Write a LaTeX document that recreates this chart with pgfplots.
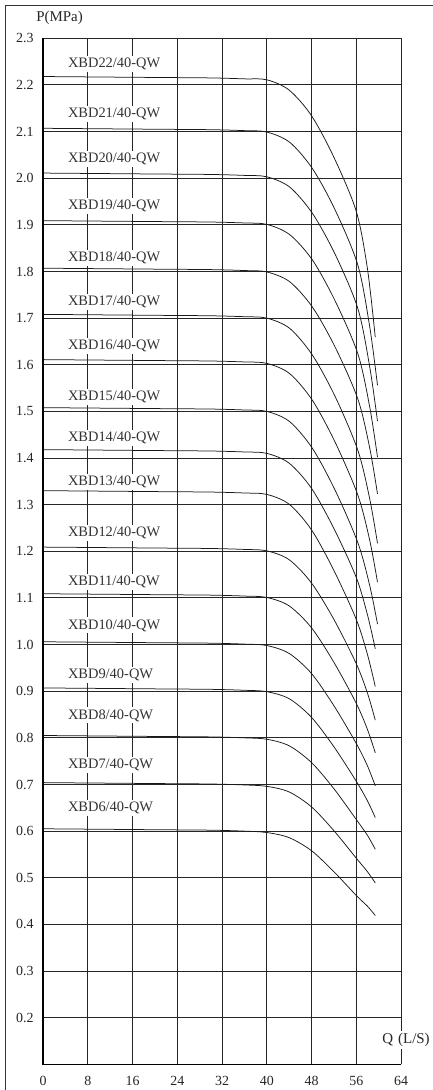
\documentclass[border=0pt]{standalone}
\usepackage{fontspec}
\setmainfont{Liberation Serif}
\usepackage{pgfplots}
\pgfplotsset{compat=1.18}
\usetikzlibrary{calc}

\tikzset{lab/.style={anchor=west, fill=white, inner xsep=3bp, inner ysep=2bp,
        text=black!80, font=\fontsize{14.5}{16}\selectfont}}

\begin{document}
\begin{tikzpicture}
\begin{axis}[
    width=358bp, height=1026bp, scale only axis,
    xmin=0, xmax=64, ymin=0.1, ymax=2.3,
    xtick={0,8,16,24,32,40,48,56,64},
    ytick={0.2,0.3,0.4,0.5,0.6,0.7,0.8,0.9,1.0,1.1,1.2,1.3,1.4,1.5,1.6,1.7,1.8,1.9,2.0,2.1,2.2,2.3},
    grid=major,
    major grid style={black!85, line width=0.9bp},
    axis line style={draw=none},
    tick style={draw=none},
    clip=false,
    /pgf/number format/assume math mode=true,
    ticklabel style={font=\fontsize{14}{16}\selectfont, black!85},
    yticklabel style={xshift=-6bp,
        /pgf/number format/fixed, /pgf/number format/fixed zerofill,
        /pgf/number format/precision=1},
    xticklabel style={yshift=-8bp},
    every axis plot post/.append style={black!90, line width=0.75bp, smooth, mark=none, solid},
]
% frame corners for the bounding box
\coordinate (A) at (rel axis cs:0,0);
\coordinate (B) at (rel axis cs:1,1);

% curve labels
\node[lab] at (axis cs:3.9,2.245) {XBD22/40-QW};
\node[lab] at (axis cs:3.9,2.138) {XBD21/40-QW};
\node[lab] at (axis cs:3.9,2.042) {XBD20/40-QW};
\node[lab] at (axis cs:3.9,1.940) {XBD19/40-QW};
\node[lab] at (axis cs:3.9,1.829) {XBD18/40-QW};
\node[lab] at (axis cs:3.9,1.735) {XBD17/40-QW};
\node[lab] at (axis cs:3.9,1.641) {XBD16/40-QW};
\node[lab] at (axis cs:3.9,1.531) {XBD15/40-QW};
\node[lab] at (axis cs:3.9,1.443) {XBD14/40-QW};
\node[lab] at (axis cs:3.9,1.349) {XBD13/40-QW};
\node[lab] at (axis cs:3.9,1.240) {XBD12/40-QW};
\node[lab] at (axis cs:3.9,1.134) {XBD11/40-QW};
\node[lab] at (axis cs:3.9,1.041) {XBD10/40-QW};
\node[lab] at (axis cs:3.9,0.935) {XBD9/40-QW};
\node[lab] at (axis cs:3.9,0.848) {XBD8/40-QW};
\node[lab] at (axis cs:3.9,0.741) {XBD7/40-QW};
\node[lab] at (axis cs:3.9,0.649) {XBD6/40-QW};

% XBD22 .. XBD6
\addplot coordinates {(0,2.218)(20,2.216)(30,2.215)(36,2.213)(40,2.211)(44,2.189)(48,2.134)(52,2.045)(56,1.929)(58,1.806)(59.4,1.659)};
\addplot coordinates {(0,2.107)(20,2.105)(30,2.104)(36,2.102)(40,2.099)(44.1,2.077)(48.2,2.020)(52.3,1.930)(56.3,1.813)(58.4,1.682)(59.8,1.556)};
\addplot coordinates {(0,2.011)(20,2.009)(30,2.008)(36,2.006)(40,2.003)(44.1,1.981)(48.2,1.924)(52.3,1.835)(56.3,1.720)(58.4,1.596)(59.8,1.479)};
\addplot coordinates {(0,1.909)(20,1.907)(30,1.906)(36,1.904)(40,1.901)(44.1,1.879)(48.2,1.824)(52.3,1.735)(56.3,1.623)(58.4,1.510)(59.8,1.402)};
\addplot coordinates {(0,1.807)(20,1.805)(30,1.804)(36,1.802)(40,1.799)(44.1,1.778)(48.2,1.723)(52.3,1.636)(56.3,1.526)(58.4,1.422)(59.8,1.323)};
\addplot coordinates {(0,1.708)(20,1.706)(30,1.705)(36,1.703)(40,1.700)(44.1,1.678)(48.2,1.620)(52.3,1.530)(56.3,1.416)(58.4,1.313)(59.8,1.217)};
\addplot coordinates {(0,1.611)(20,1.609)(30,1.608)(36,1.606)(40,1.603)(44.1,1.581)(48.2,1.523)(52.3,1.432)(56.3,1.320)(58.4,1.224)(59.8,1.134)};
\addplot coordinates {(0,1.508)(20,1.506)(30,1.505)(36,1.503)(40,1.500)(44.1,1.478)(48.2,1.420)(52.3,1.329)(56.3,1.218)(58.4,1.127)(59.8,1.044)};
\addplot coordinates {(0,1.418)(20,1.416)(30,1.415)(36,1.413)(40,1.410)(44,1.389)(48,1.335)(52,1.249)(56,1.144)(58,1.064)(59.4,0.991)};
\addplot coordinates {(0,1.330)(20,1.328)(30,1.327)(36,1.325)(40,1.322)(44,1.301)(48,1.246)(52,1.159)(56,1.054)(58,0.979)(59.4,0.910)};
\addplot coordinates {(0,1.209)(20,1.207)(30,1.206)(36,1.204)(40,1.201)(44,1.182)(48,1.132)(52,1.054)(56,0.959)(58,0.896)(59.4,0.838)};
\addplot coordinates {(0,1.109)(20,1.107)(30,1.106)(36,1.104)(40,1.101)(44,1.083)(48,1.036)(52,0.962)(56,0.874)(58,0.818)(59.4,0.768)};
\addplot coordinates {(0,1.006)(20,1.004)(30,1.003)(36,1.001)(40,0.998)(44,0.981)(48,0.938)(52,0.869)(56,0.788)(58,0.740)(59.4,0.697)};
\addplot coordinates {(0,0.907)(20,0.905)(30,0.904)(36,0.902)(40,0.899)(44,0.884)(48,0.844)(52,0.781)(56,0.707)(58,0.665)(59.4,0.629)};
\addplot coordinates {(0,0.805)(20,0.803)(30,0.802)(36,0.800)(40,0.797)(44,0.783)(48,0.747)(52,0.691)(56,0.625)(58,0.591)(59.4,0.561)};
\addplot coordinates {(0,0.704)(20,0.702)(30,0.701)(36,0.699)(40,0.696)(44,0.684)(48,0.652)(52,0.601)(56,0.542)(58,0.513)(59.4,0.489)};
\addplot coordinates {(0,0.605)(20,0.603)(30,0.602)(36,0.600)(40,0.597)(44,0.586)(48,0.558)(52,0.513)(56,0.462)(58,0.439)(59.4,0.419)};

% thick left and bottom axis lines
\draw[black, line width=1.4bp] (rel axis cs:0,1) -- (rel axis cs:0,0) -- (rel axis cs:1,0);

% axis titles
\node[text=black!85, font=\fontsize{15}{17}\selectfont] at (axis cs:2.95,2.3435) {P(MPa)};
\node[fill=white, inner sep=2bp, text=black!85, font=\fontsize{15}{17}\selectfont]
    at (axis cs:64.9,0.152) {Q\hspace{5bp}(L/S)};
\end{axis}

% outer frame (left and top) and exact page size
\draw[black!80, line width=0.9bp] ($(A)+(-38bp,-25.7bp)$) -- ($(A|-B)+(-38bp,33.3bp)$) -- ($(B)+(32bp,33.3bp)$);
\pgfresetboundingbox
\path[use as bounding box] ($(A)+(-43bp,-25.7bp)$) rectangle ($(B)+(32bp,38.3bp)$);
\end{tikzpicture}
\end{document}
